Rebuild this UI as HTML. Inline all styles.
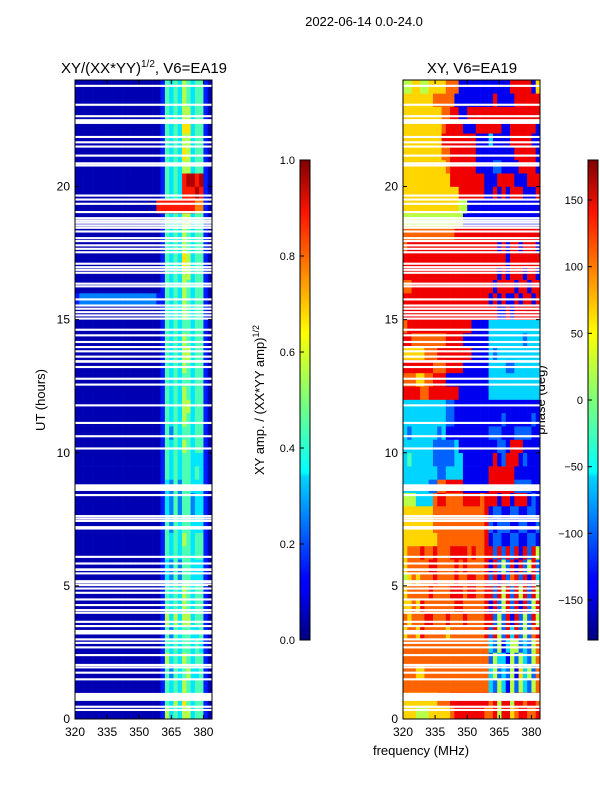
<!DOCTYPE html>
<html><head><meta charset="utf-8"><style>
html,body{margin:0;padding:0;background:#fff}
svg{display:block;font-family:"Liberation Sans","DejaVu Sans",sans-serif}
</style></head><body>
<svg id="fig" width="600" height="800" viewBox="0 0 600 800">
<defs>
<linearGradient id="jet" x1="0" y1="1" x2="0" y2="0">
<stop offset="0" stop-color="#00007f"/><stop offset="0.11" stop-color="#0000ff"/><stop offset="0.125" stop-color="#0000ff"/>
<stop offset="0.34" stop-color="#00d4ff"/><stop offset="0.35" stop-color="#0ff"/><stop offset="0.5" stop-color="#7dff7a"/>
<stop offset="0.64" stop-color="#ff0"/><stop offset="0.66" stop-color="#ffea00"/><stop offset="0.89" stop-color="#ff1300"/>
<stop offset="1" stop-color="#7f0000"/></linearGradient>
</defs>
<text x="364" y="26" font-size="13" text-anchor="middle">2022-06-14 0.0-24.0</text>
<text x="144" y="73" font-size="15" text-anchor="middle">XY/(XX*YY)<tspan font-size="10" dy="-6">1/2</tspan><tspan dy="6">, V6=EA19</tspan></text>
<text x="472" y="73" font-size="15" text-anchor="middle">XY, V6=EA19</text>
<text transform="translate(45,400) rotate(-90)" font-size="13" text-anchor="middle">UT (hours)</text>
<text x="421" y="755" font-size="13" text-anchor="middle">frequency (MHz)</text>
<text transform="translate(264,400) rotate(-90)" font-size="13" text-anchor="middle">XY amp. / (XX*YY amp)<tspan font-size="9" dy="-5">1/2</tspan></text>
<text transform="translate(545,400) rotate(-90)" font-size="13" text-anchor="middle">phase (deg)</text>
<g id="left"></g>
<g id="right"></g>
<g id="axes"></g>
<rect x="300" y="160" width="10" height="480" fill="url(#jet)" stroke="#000" stroke-width="1"/>
<rect x="588" y="160" width="10" height="480" fill="url(#jet)" stroke="#000" stroke-width="1"/>
<g id="cbticks"></g>
</svg>
<script>
const fMin = 320, fMax = 384, tMin = 0, tMax = 24;
const xTicks = [320, 335, 350, 365, 380];
const yTicks = [0, 5, 10, 15, 20];
const ampTicks = ["0.0", "0.2", "0.4", "0.6", "0.8", "1.0"];
const phaseTicks = [-150, -100, -50, 0, 50, 100, 150];
// 48 rows of 0.5 h (row 0 = 0-0.5 h), 32 columns of 2 MHz; code c -> amp 0.05+0.1c
const ampRows = [
"00000000000000000000153435534410",
"00000000000000000000143536434410",
"00000000000000000000143435434410",
"00000000000000000000142434533410",
"00000000000000000000153435434410",
"00000000000000000000143434434310",
"00000000000000000000142434433410",
"00000000000000000000153535534410",
"00000000000000000000143435434410",
"00000000000000000000143435434410",
"00000000000000000000132424433310",
"00000000000000000000132424433310",
"00000000000000000000143434434410",
"00000000000000000000143435434410",
"00000000000000000000142434433310",
"00000000000000000000132424423310",
"00000000000000000000132424423310",
"00000000000000000000132424433310",
"00000000000000000000143434434310",
"00000000000000000000143434433310",
"00000000000000000000143435434410",
"00000000000000000000142434434410",
"00000000000000000000143435434410",
"00000000000000000000143435534410",
"00000000000000000000143435434410",
"00000000000000000000143434434410",
"00000000000000000000143435434410",
"00000000000000000000143435534410",
"00000000000000000000143435434410",
"00000000000000000000143434434410",
"00000000000000000000143435434410",
"12222222222222222221143435434410",
"00000000000000000000143435434410",
"00000000000000000000143435534410",
"00000000000000000000143436534410",
"00000000000000000000143435434410",
"00000000000000000000143435434410",
"00000000000000000000143435534410",
"00000000000000000008888888887710",
"00000000000000000000143438889810",
"00000000000000000000143438998910",
"00000000000000000000143435534410",
"00000000000000000000143436534410",
"00000000000000000000143435534410",
"00000000000000000000143436634410",
"00000000000000000000143435534410",
"00000000000000000000143435434410",
"00000000000000000000143435434410"];
// code c -> phase -180+40c deg
const phaseRows = [
"66655566666788888887785886788778",
"66666666777888888888785885887887",
"77777777777777777777325315253257",
"77766777777777777777352325163527",
"77777777777777777777253315253257",
"77777777777777777777325135523257",
"67768777776777777778285283825278",
"76777887778777877778825281825285",
"66768777777788777778182582818258",
"67777787777888788778828582858285",
"56767778777787788778281827828183",
"67777788777787877778182528182582",
"67778778777888878778828282818285",
"66666666777777777778122112211221",
"66666667777777777778212221122112",
"66666667777777777778122112211221",
"55533337887777888878881881888121",
"33333322778888111111888888222211",
"33333333223333111111888888111111",
"34333332222233111111181288812111",
"33333332222231111111112218881111",
"32333333231111111111222111222211",
"33333333332211111111111211111121",
"33333333332211111111111111111111",
"88887788888881111111333333333333",
"77766778881111111111333333333333",
"88888887778888111111333322333333",
"66666777888888881111323333333333",
"88777777778888111111333333332333",
"78888888888888881111333333333333",
"88888888888888888888881181888888",
"88888888888888888888181811818818",
"77888888888888888888818888188188",
"88888888888888888888881818881881",
"88888888888888888888888818888888",
"78888888888888888888881818818881",
"77777777777788888888888888888888",
"55555555555555111111111111111111",
"66666666666665511111111111111111",
"66666666666668888881181818881118",
"66666666666888888881118888111888",
"66666666667888888111122111188881",
"66666666677888888111111111888881",
"66666666688888888111311118888811",
"66666666678888111888888118888881",
"66666666677881188888888888888888",
"66666667777711111111181111888888",
"55665566667771111111111118888816"];
const gapTimes = [23.78,23.07,22.64,22.44,21.86,21.66,21.50,21.16,20.87,20.79,19.66,19.51,19.35,19.04,18.81,18.72,18.64,18.54,18.45,18.31,18.06,17.95,17.79,17.66,17.53,17.10,16.97,16.87,16.76,16.35,16.25,15.76,15.53,15.41,15.28,15.16,15.04,14.62,14.41,14.16,13.97,13.81,13.61,13.43,13.22,12.78,12.56,11.78,11.12,10.62,10.16,8.69,8.41,7.62,7.53,7.44,7.18,6.09,5.84,5.61,5.47,5.15,5.03,4.90,4.74,4.49,4.28,4.09,3.99,3.65,3.49,3.26,2.99,2.86,2.69,2.40,2.03,1.94,1.74,1.49,0.83,0.46,0.34];
const gapDur = [0.08,0.08,0.08,0.18,0.08,0.08,0.08,0.08,0.08,0.08,0.08,0.08,0.08,0.08,0.08,0.08,0.08,0.08,0.08,0.08,0.08,0.08,0.08,0.08,0.08,0.08,0.08,0.08,0.08,0.08,0.08,0.08,0.08,0.08,0.08,0.08,0.08,0.08,0.08,0.08,0.08,0.08,0.08,0.1,0.08,0.08,0.08,0.08,0.08,0.08,0.08,0.25,0.08,0.08,0.08,0.08,0.13,0.08,0.08,0.1,0.08,0.13,0.08,0.08,0.08,0.08,0.08,0.08,0.08,0.08,0.08,0.17,0.08,0.08,0.08,0.08,0.08,0.08,0.08,0.08,0.3,0.08,0.08];

const NS = "http://www.w3.org/2000/svg";
const panels = [{x0:75,x1:212},{x0:403,x1:540}];
const yTop = 80, yBot = 719;
function xScale(p, f){ return p.x0 + (f - fMin) / (fMax - fMin) * (p.x1 - p.x0); }
function yScale(t){ return yBot - (t - tMin) / (tMax - tMin) * (yBot - yTop); }
function jet(v){
  v = Math.max(0, Math.min(1, v));
  const c = x => Math.round(255 * Math.max(0, Math.min(1, x)));
  return `rgb(${c(1.5-Math.abs(4*v-3))},${c(1.5-Math.abs(4*v-2))},${c(1.5-Math.abs(4*v-1))})`;
}
function mk(tag, attrs, parent){
  const e = document.createElementNS(NS, tag);
  for (const k in attrs) e.setAttribute(k, attrs[k]);
  parent.appendChild(e); return e;
}
function drawHeat(gid, p, rows, toNorm, nm){
  const g = document.getElementById(gid);
  const nR = rows.length, nC = rows[0].length;
  const dt = (tMax - tMin) / nR, df = (fMax - fMin) / nC;
  rows.forEach((row, r) => {
    for (let c = 0; c < nC; c++) {
      const x = xScale(p, fMin + c*df), x2 = xScale(p, fMin + (c+1)*df);
      const y = yScale(tMin + (r+1)*dt), y2 = yScale(tMin + r*dt);
      const el = mk("rect", {x:x, y:y, width:x2-x+0.3, height:y2-y+0.3, fill:jet(toNorm(+row[c]))}, g);
      
      
    }
  });
  gapTimes.forEach((t, i) => {
    const y = yScale(t + gapDur[i]/2), y2 = yScale(t - gapDur[i]/2);
    const el = mk("rect", {x:p.x0, y:y, width:p.x1-p.x0, height:y2-y, fill:"#fff"}, g);
    
    
  });
}
drawHeat("left", panels[0], ampRows, c => 0.05 + 0.1*c, 'amp-cell');
drawHeat("right", panels[1], phaseRows, c => (-180 + 40*c + 180) / 360, 'phase-cell');

const ax = document.getElementById("axes");
panels.forEach((p, pi) => {
  const fr = mk("rect", {x:p.x0, y:yTop, width:p.x1-p.x0, height:yBot-yTop, fill:"none", stroke:"#000", "stroke-width":1}, ax);
  
  
  xTicks.forEach(f => {
    const x = xScale(p, f);
    mk("line", {x1:x, x2:x, y1:yBot, y2:yBot-4, stroke:"#000"}, ax);
    mk("line", {x1:x, x2:x, y1:yTop, y2:yTop+4, stroke:"#000"}, ax);
    const t = mk("text", {x:x, y:yBot+17, "font-size":12, "text-anchor":"middle"}, ax);
    t.textContent = f;
    
    
  });
  yTicks.forEach(v => {
    const y = yScale(v);
    mk("line", {x1:p.x0, x2:p.x0+4, y1:y, y2:y, stroke:"#000"}, ax);
    mk("line", {x1:p.x1, x2:p.x1-4, y1:y, y2:y, stroke:"#000"}, ax);
    const t = mk("text", {x:p.x0-5, y:y+4, "font-size":12, "text-anchor":"end"}, ax);
    t.textContent = v;
    
    
  });
});
const cb = document.getElementById("cbticks");
ampTicks.forEach((s, i) => {
  const y = 640 - i/(ampTicks.length-1)*480;
  mk("line", {x1:300, x2:304, y1:y, y2:y, stroke:"#000"}, cb);
  const t = mk("text", {x:295, y:y+4, "font-size":11, "text-anchor":"end"}, cb);
  t.textContent = s;
  
  
});
phaseTicks.forEach(v => {
  const y = 640 - (v + 180)/360*480;
  mk("line", {x1:588, x2:592, y1:y, y2:y, stroke:"#000"}, cb);
  const t = mk("text", {x:583, y:y+4, "font-size":11, "text-anchor":"end"}, cb);
  t.textContent = v < 0 ? "\u2212" + (-v) : String(v);
  
  
});
</script>
</body></html>
